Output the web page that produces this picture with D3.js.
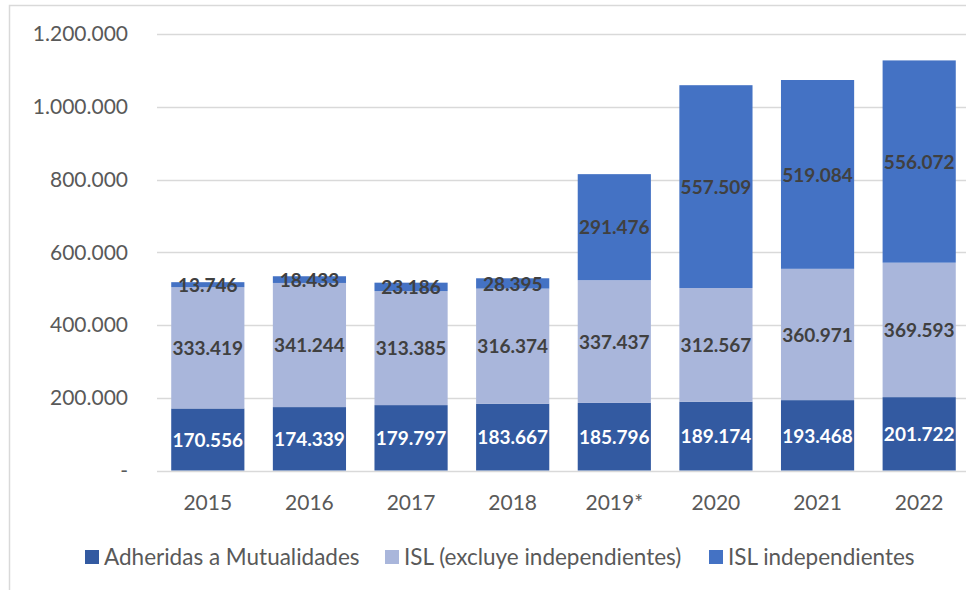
<!DOCTYPE html>
<html>
<head>
<meta charset="utf-8">
<script src="https://cdn.jsdelivr.net/npm/d3@7"></script>
<style>
  body { margin: 0; background: #fff; }
  svg { font-family: Lato, "Liberation Sans", sans-serif; }
</style>
</head>
<body>
<svg id="chart" width="966" height="590"></svg>
<script>
// data
const years = ['2015', '2016', '2017', '2018', '2019*', '2020', '2021', '2022']
const adheridas = [170556, 174339, 179797, 183667, 185796, 189174, 193468, 201722]
const islExcluye = [333419, 341244, 313385, 316374, 337437, 312567, 360971, 369593]
const islIndep = [13746, 18433, 23186, 28395, 291476, 557509, 519084, 556072]
const yTicks = [0, 200000, 400000, 600000, 800000, 1000000, 1200000]

const seriesNames = ['Adheridas a Mutualidades', 'ISL (excluye independientes)', 'ISL independientes']
const colors = ['#335aa1', '#a9b6db', '#4472c4']
const labelColors = ['#ffffff', '#404040', '#404040']

const rows = years.map((y, i) => ({ year: y, a: adheridas[i], b: islExcluye[i], c: islIndep[i] }))
const stack = d3.stack().keys(['a', 'b', 'c'])(rows)

const es = d3.formatLocale({ decimal: ',', thousands: '.', grouping: [3], currency: ['', ''] })
const fmt = es.format(',d')

const svg = d3.select('#chart')
const margin = { left: 157, right: -4, top: 34, bottom: 119 }
const width = 966, height = 590

// outer frame
svg.append('rect')
  .attr('x', 9.5).attr('y', 5.5)
  .attr('width', 1200).attr('height', 1200)
  .attr('fill', 'none').attr('stroke', '#d9d9d9').attr('stroke-width', 1.5)

const x = d3.scaleBand()
  .domain(years)
  .range([margin.left, width - margin.right])
  .paddingInner(0.28).paddingOuter(0.14)

const y = d3.scaleLinear()
  .domain([0, 1200000])
  .range([height - margin.bottom - 0.5, margin.top])

// grid
svg.append('g')
  .selectAll('line')
  .data(yTicks)
  .join('line')
  .attr('x1', margin.left).attr('x2', width)
  .attr('y1', d => Math.round(y(d)) + 0.5).attr('y2', d => Math.round(y(d)) + 0.5)
  .attr('stroke', '#d9d9d9').attr('stroke-width', 1.5)

// y labels
svg.append('g')
  .selectAll('text')
  .data(yTicks)
  .join('text')
  .attr('x', 128)
  .attr('y', d => y(d))
  .attr('dy', '0.35em')
  .attr('text-anchor', 'end')
  .attr('fill', '#595959')
  .attr('font-size', 21)
  .text(d => d === 0 ? '-' : fmt(d))

// bars
const layers = svg.append('g')
  .selectAll('g')
  .data(stack)
  .join('g')
  .attr('fill', (d, i) => colors[i])

layers.selectAll('rect')
  .data(d => d)
  .join('rect')
  .attr('x', d => x(d.data.year))
  .attr('width', x.bandwidth())
  .attr('y', d => y(d[1]))
  .attr('height', d => y(d[0]) - y(d[1]))

// value labels
stack.forEach((layer, li) => {
  svg.append('g')
    .selectAll('text')
    .data(layer)
    .join('text')
    .attr('x', d => x(d.data.year) + x.bandwidth() / 2)
    .attr('y', d => (y(d[0]) + y(d[1])) / 2)
    .attr('dy', '0.38em')
    .attr('text-anchor', 'middle')
    .attr('font-weight', 'bold')
    .attr('font-size', 19)
    .attr('fill', labelColors[li])
    .text(d => fmt(d[1] - d[0]))
})

// x labels
svg.append('g')
  .selectAll('text')
  .data(years)
  .join('text')
  .attr('x', d => x(d) + x.bandwidth() / 2)
  .attr('y', 510)
  .attr('text-anchor', 'middle')
  .attr('fill', '#595959')
  .attr('font-size', 21)
  .text(d => d)

// legend
const legendX = [85, 385, 709]
const legend = svg.append('g')
  .selectAll('g')
  .data(seriesNames)
  .join('g')
  .attr('transform', (d, i) => `translate(${legendX[i]},550)`)
legend.append('rect')
  .attr('width', 14).attr('height', 14)
  .attr('fill', (d, i) => colors[i])
legend.append('text')
  .attr('x', 19).attr('y', 7)
  .attr('dy', '0.36em')
  .attr('fill', '#595959')
  .attr('font-size', 22.5)
  .text(d => d)
</script>
</body>
</html>
